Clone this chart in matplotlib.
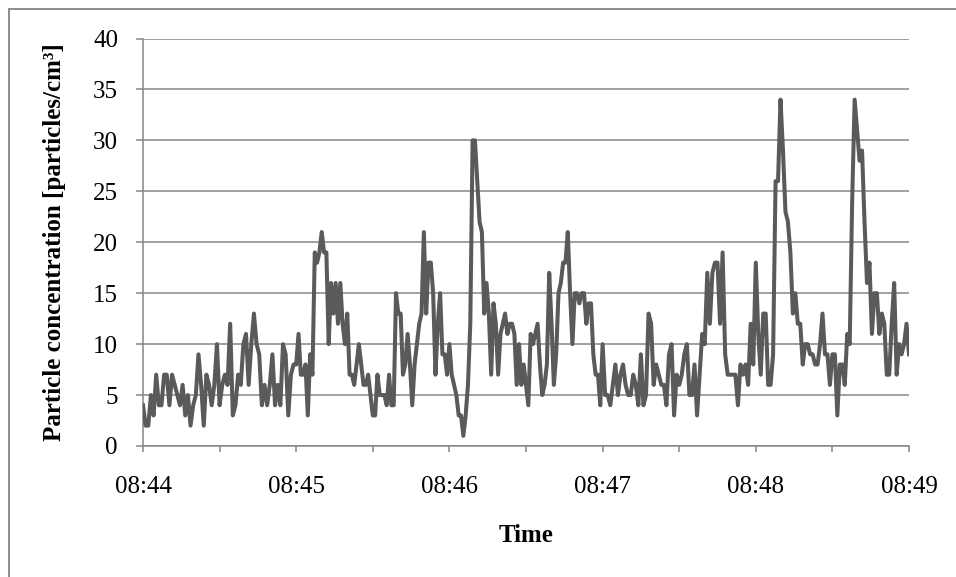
import numpy as np
import matplotlib
matplotlib.use("Agg")
import matplotlib.pyplot as plt
from matplotlib.patches import Rectangle

# ---- data -------------------------------------------------------------
minute_labels = ["08:44", "08:45", "08:46", "08:47", "08:48", "08:49"]
y_ticks = [0, 5, 10, 15, 20, 25, 30, 35, 40]

# particle concentration readings, one list per minute
conc_0844 = [4, 2, 2, 5, 3, 7, 4, 4, 7, 7, 4, 7, 6, 5, 4, 6, 3, 5, 2, 4, 5, 9, 6, 2,
             7, 6, 4, 6, 10, 4, 6, 7, 6, 12, 3, 4, 7, 6, 10, 11, 6, 10, 13, 10, 9,
             4, 6, 4, 6, 9, 4, 6, 4, 10, 9, 3, 7, 8]
conc_0845 = [8, 11, 7, 7, 8, 3, 9, 7, 19, 18, 19, 21, 19, 19, 10, 16, 13, 16, 12,
             16, 12, 10, 13, 7, 7, 6, 8, 10, 8, 6, 6, 7, 5, 3, 3, 7, 5, 5, 5, 4, 7,
             4, 4, 15, 13, 13, 7, 8, 11, 8, 4, 8, 10, 12, 13, 21, 13, 18, 18, 15, 7,
             12, 15, 9, 9, 7]
conc_0846 = [10, 7, 6, 5, 3, 3, 1, 3, 6, 12, 30, 30, 26, 22, 21, 13, 16, 13, 7, 14,
             12, 7, 11, 12, 13, 11, 12, 12, 11, 6, 10, 6, 8, 6, 4, 11, 10, 11, 12, 8,
             5, 6, 8, 17, 12, 6, 9, 15, 16, 18, 18, 21, 15, 10, 15, 15, 14, 15, 15,
             12, 14, 14, 9, 7, 7, 4]
conc_0847 = [10, 5, 5, 4, 6, 8, 5, 7, 8, 6, 5, 5, 7, 6, 4, 9, 4, 5, 13, 12, 6, 8, 7,
             6, 6, 4, 9, 10, 3, 7, 6, 7, 9, 10, 5, 5, 8, 3, 7, 11, 10, 17, 12, 17,
             18, 18, 12, 19, 9, 7, 7, 7, 7, 4, 8, 7, 8, 6, 12, 8]
conc_0848 = [18, 11, 7, 13, 13, 6, 6, 9, 26, 26, 34, 29, 23, 22, 19, 13, 15, 12, 12,
             8, 10, 10, 9, 9, 8, 8, 10, 13, 9, 9, 6, 9, 9, 3, 8, 8, 6, 11, 10, 24,
             34, 31, 28, 29, 22, 16, 18, 11, 15, 15, 11, 13, 12, 7, 7, 12, 16, 7, 10,
             9, 10, 12, 9]

segments = [conc_0844, conc_0845, conc_0846, conc_0847, conc_0848]
t_sec, conc = [], []
for i, seg in enumerate(segments):
    last = i == len(segments) - 1
    t_sec.extend(np.linspace(i * 60, (i + 1) * 60, len(seg), endpoint=last))
    conc.extend(seg)

# ---- figure -----------------------------------------------------------
plt.rcParams['font.family'] = ['Liberation Serif', 'DejaVu Serif']
W, H = 956, 577
fig = plt.figure(figsize=(W / 100, H / 100), dpi=100)

# chart-area frame (extends past right/bottom edge)
fig.patches.append(Rectangle((8.5 / W, -0.05), 1.2, 1 - 8.5 / H + 0.05,
                             transform=fig.transFigure, fill=False,
                             edgecolor='#8c8c8c', linewidth=1.4))

ax = fig.add_axes([143 / W, (H - 446) / H, (909 - 143) / W, (446 - 38.5) / H])

ax.plot(t_sec, conc, color='#5a5a5a', linewidth=2.9, solid_joinstyle='round',
        zorder=3)

gcol = '#868686'
ax.set_xlim(0, 300)
ax.set_ylim(0, 40)
ax.set_yticks(y_ticks)
ax.set_xticks(np.arange(0, 301, 60))
ax.set_xticklabels(minute_labels)
ax.set_xticks(np.arange(30, 300, 60), minor=True)
ax.yaxis.grid(True, color=gcol, linewidth=1.1)
ax.set_axisbelow(True)

for s in ['top', 'right']:
    ax.spines[s].set_visible(False)
for s in ['left', 'bottom']:
    ax.spines[s].set_color(gcol)
    ax.spines[s].set_linewidth(1.1)

ax.tick_params(axis='y', direction='out', length=5, width=1.1, color=gcol,
               pad=13, labelsize=18)
ax.tick_params(axis='x', which='both', direction='out', length=4.5, width=1.1,
               color=gcol, pad=17, labelsize=18)

ax.set_ylabel('Particle concentration [particles/cm³]',
              fontsize=18, fontweight='bold')
ax.set_xlabel('Time', fontsize=18, fontweight='bold')
ax.yaxis.label.set_va('center')
ax.xaxis.label.set_va('center')
ax.yaxis.set_label_coords((55 - 143) / (909 - 143), 0.5)
ax.xaxis.set_label_coords(0.5, (446 - 535) / (446 - 38.5))

fig.savefig('out.png', dpi=100)
